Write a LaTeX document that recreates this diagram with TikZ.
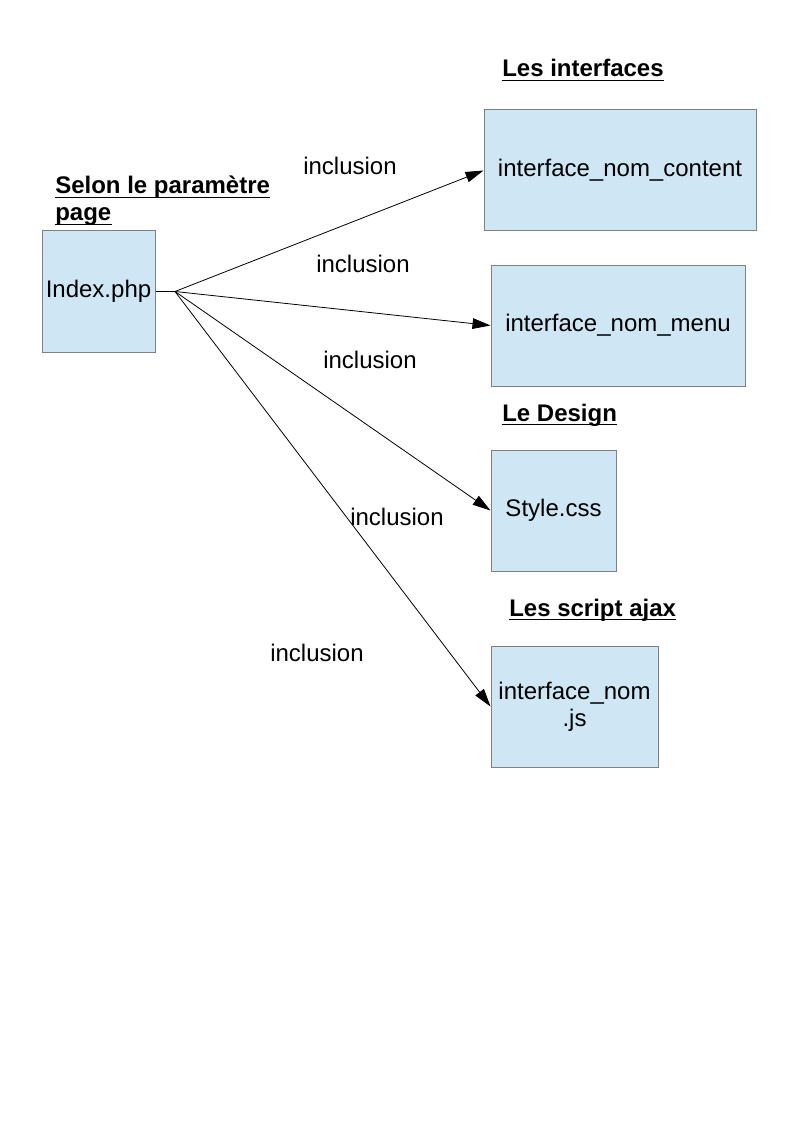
\documentclass[tikz,border=0pt]{standalone}
\usepackage{fontspec}
\setmainfont{Liberation Sans}
\usetikzlibrary{arrows.meta}
\definecolor{boxfill}{RGB}{207,231,245}
\definecolor{boxline}{RGB}{128,128,128}

\begin{document}
\begin{tikzpicture}[x=0.75pt, y=-0.75pt,
    every node/.style={font=\fontsize{18pt}{20.25pt}\selectfont},
    box/.style={draw=boxline, fill=boxfill, line width=0.75pt, inner sep=0pt, align=center, minimum height=90.75pt},
    heading/.style={anchor=base west, inner sep=0pt, font=\fontsize{18pt}{20.25pt}\selectfont\bfseries},
    lbl/.style={anchor=base, inner sep=0pt},
    link/.style={line width=0.6pt, -{Triangle[length=13.5pt, width=8pt]}}]
    \useasboundingbox (0,0) rectangle (794,1123);
    \node[box, minimum width=84.75pt] (index) at (98.5,291.5) {Index.php};
    \node[box, minimum width=204pt] (content) at (620,170.5) {interface\_nom\_content};
    \node[box, minimum width=190.5pt] (menu) at (618,325.5) {interface\_nom\_menu};
    \node[box, minimum width=93.75pt] (style) at (553.5,510.5) {Style.css};
    \node[box, minimum width=125.25pt] (js) at (574.5,706.5) {interface\_nom\\.js};
    \node[heading] (tparam) at (55,194) {Selon le paramètre};
    \node[heading] (tpage) at (55,221) {page};
    \node[heading] (tinterfaces) at (502,77) {Les interfaces};
    \node[heading] (tdesign) at (502,421) {Le Design};
    \node[heading] (tajax) at (509,616) {Les script ajax};
    % soulignement des titres
    \foreach \t in {tparam,tpage,tinterfaces,tdesign,tajax}
        {\draw[line width=1.3pt] ([yshift=-2.55pt]\t.base west) -- ([yshift=-2.55pt]\t.base east);}
    % tous les liens partent du même point à droite de Index.php
    \coordinate (hub) at (175,291.5);
    \draw[line width=0.6pt] (index.east) -- (hub);
    \foreach \t in {content,menu,style,js} {\draw[link] (hub) -- (\t.west);}
    \foreach \x/\y [count=\i] in {350/174.5, 363/272.5, 370/368.5, 397/525.5, 317/661.5}
        {\node[lbl] (inc\i) at (\x,\y) {inclusion};}
\end{tikzpicture}
\end{document}
